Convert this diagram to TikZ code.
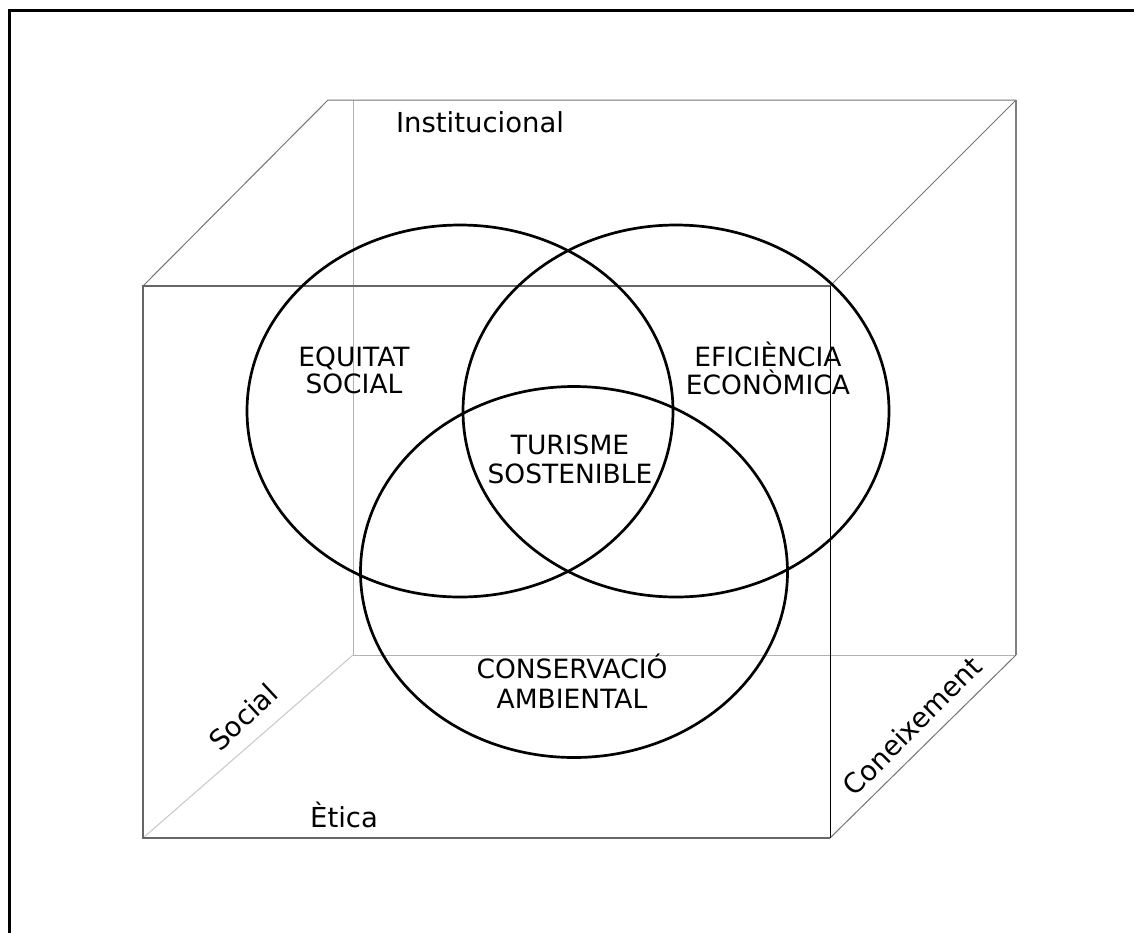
\documentclass[tikz,border=0pt]{standalone}
\usepackage{fontspec}
\setmainfont{DejaVu Sans}
\begin{document}
\begin{tikzpicture}[x=1pt,y=-1pt,
  lbl/.style={inner sep=0pt,anchor=base,font=\fontsize{26.5}{29}\selectfont},
  lowlbl/.style={lbl,font=\fontsize{27.5}{30}\selectfont},
  ring/.style={line width=2.7pt,black},
  frontedge/.style={line width=1.2pt,color=black!60},
  backedge/.style={line width=1pt,color=black!30},
  sideedge/.style={line width=1pt,color=black!55}]
\useasboundingbox (0,0) rectangle (1134,932);
% outer frame
\draw[line width=3pt] (9.5,10.5) rectangle (1150,950);

% cube corners: front face
\coordinate (ftl) at (143,286);
\coordinate (ftr) at (830,286);
\coordinate (fbr) at (830,838);
\coordinate (fbl) at (143,838);
% back face
\coordinate (btt) at (328,100);
\coordinate (btl) at (353,100);
\coordinate (btr) at (1016,100);
\coordinate (bbr) at (1016,655);
\coordinate (bbl) at (353,655);

% hidden back edges
\draw[backedge] (btl) -- (bbl) -- (bbr);
\draw[backedge, color=black!22] (fbl) -- (bbl);
% visible back and side edges
\draw[sideedge] (ftl) -- (btt) -- (btr);
\draw[sideedge] (btr) -- (ftr);
\draw[line width=1.3pt,color=black!50] (btr) -- (bbr);
\draw[sideedge] (fbr) -- (bbr);
% front face
\draw[frontedge] (fbr) -- (fbl) -- (ftl) -- (ftr);
\draw[line width=1pt,black] (ftr) -- (fbr);

% three overlapping ellipses
\coordinate (c1) at (460,411);
\coordinate (c2) at (676,411);
\coordinate (c3) at (574,572);
\draw[ring] (c1) ellipse [x radius=213, y radius=186];
\draw[ring] (c2) ellipse [x radius=213, y radius=186];
\draw[ring] (c3) ellipse [x radius=213.5, y radius=185.5];

% labels in the ellipses
\node[lbl] (eq1) at (354,366) {EQUITAT};
\node[lbl] (eq2) at (354,393) {SOCIAL};
\node[lbl] (ef1) at (768,366) {EFICIÈNCIA};
\node[lbl] (ef2) at (768,394) {ECONÒMICA};
\node[lbl] (ts1) at (570,454) {TURISME};
\node[lbl] (ts2) at (570,483) {SOSTENIBLE};
\node[lbl] (ca1) at (572,678) {CONSERVACIÓ};
\node[lbl] (ca2) at (572,708) {AMBIENTAL};

% labels of the cube
\node[lowlbl] (inst) at (480,132) {Institucional};
\node[lowlbl] (etica) at (344,827) {Ètica};
\node[lowlbl,anchor=center,rotate=43] (soc) at (243,717) {Social};
\node[lowlbl,anchor=center,rotate=45] (con) at (912,726) {Coneixement};
\end{tikzpicture}
\end{document}
